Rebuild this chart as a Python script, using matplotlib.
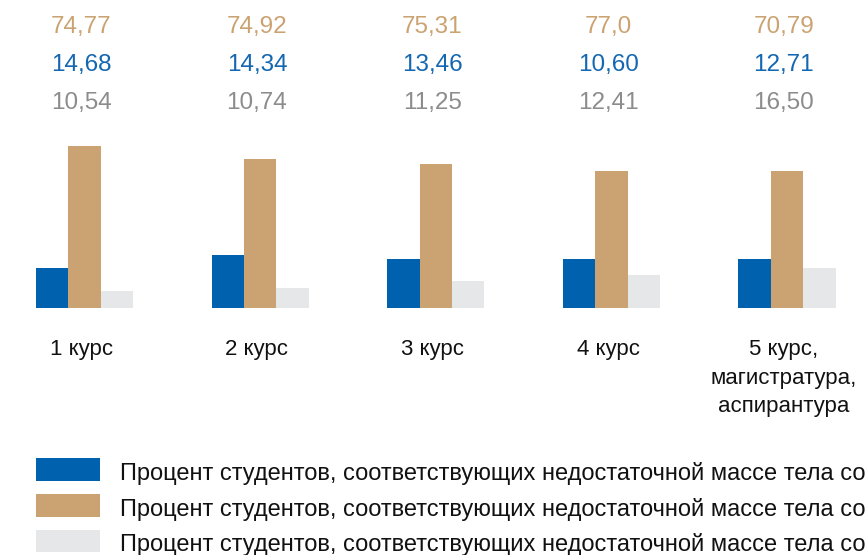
import matplotlib
matplotlib.use("Agg")
import matplotlib.pyplot as plt
import matplotlib.transforms as mtransforms
from matplotlib.patches import Rectangle
import numpy as np

plt.rcParams['font.family'] = ['Liberation Sans', 'DejaVu Sans']

categories = ["1 курс", "2 курс", "3 курс", "4 курс", "5 курс,\nмагистратура,\nаспирантура"]

# numbers printed above the groups
tan_labels = ["74,77", "74,92", "75,31", "77,0", "70,79"]
blue_labels = ["14,68", "14,34", "13,46", "10,60", "12,71"]
gray_labels = ["10,54", "10,74", "11,25", "12,41", "16,50"]

# bar heights as drawn (relative units)
blue_bars = [40, 53, 49, 49, 49]
tan_bars = [162, 149, 144, 137, 137]
gray_bars = [17, 20, 27, 33, 40]

legend_text = "Процент студентов, соответствующих недостаточной массе тела со"

blue = "#0062AE"
tan = "#CBA372"
gray = "#E6E7E9"

W, H = 865, 555
fig = plt.figure(figsize=(W / 100, H / 100), dpi=100)
ax = fig.add_axes([0, (H - 308) / H, 1, 162 / H])

x = np.arange(len(categories))
w = 0.1845
ax.bar(x - w, blue_bars, w, color=blue, linewidth=0)
ax.bar(x, tan_bars, w, color=tan, linewidth=0)
ax.bar(x + w, gray_bars, w, color=gray, linewidth=0)

ax.set_xlim(-0.4812, 4.4447)
ax.set_ylim(0, 162)
ax.axis("off")

trans = mtransforms.blended_transform_factory(ax.transData, fig.transFigure)
dx = -0.018
for i in range(len(categories)):
    ax.text(x[i] + dx, 1 - 27 / H, tan_labels[i], transform=trans, ha="center", va="center",
            fontsize=17.5, color="#CBA372")
    ax.text(x[i] + dx, 1 - 65.5 / H, blue_labels[i], transform=trans, ha="center", va="center",
            fontsize=17.5, color="#1467B1")
    ax.text(x[i] + dx, 1 - 102.5 / H, gray_labels[i], transform=trans, ha="center", va="center",
            fontsize=17.5, color="#8C8C8C")
    ax.text(x[i] + dx, 1 - 339.5 / H, categories[i], transform=trans, ha="center", va="top",
            fontsize=16, color="#111111", linespacing=1.45)

# legend
rows = [(blue, 458), (tan, 494), (gray, 529.5)]
for col, top in rows:
    fig.patches.append(Rectangle((36 / W, 1 - (top + 22.5) / H), 64 / W, 22.5 / H,
                                 transform=fig.transFigure, facecolor=col, edgecolor="none"))
    fig.text(120 / W, 1 - (top + 15.5) / H, legend_text, ha="left", va="center",
             fontsize=17, color="#111111")

fig.savefig("out.png", dpi=100)
